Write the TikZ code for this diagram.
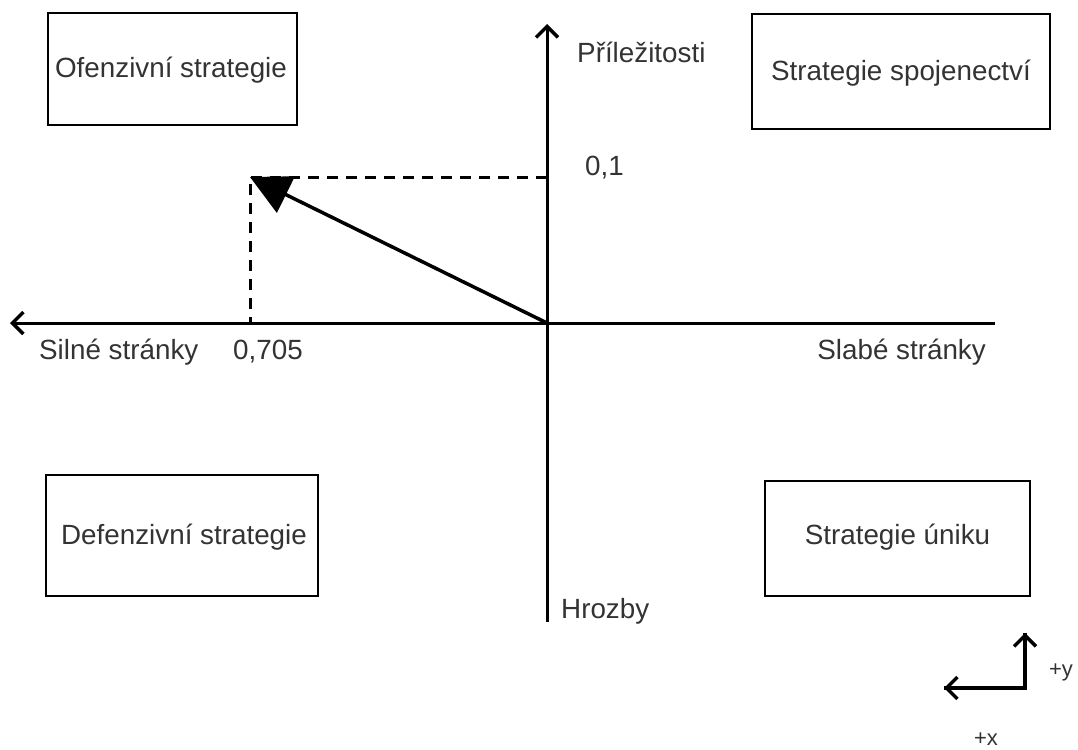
\documentclass[tikz,border=0pt]{standalone}
\usepackage{fontspec}
\setmainfont{Liberation Sans}
\usetikzlibrary{arrows.meta}
\begin{document}
\begin{tikzpicture}[x=1pt,y=-1pt,
  box/.style={draw, line width=2pt},
  lbl/.style={inner sep=0pt, font=\fontsize{27.8}{32}\selectfont, text=black!80},
  axis/.style={line width=3pt, -{Straight Barb[length=11pt,width=22pt,line width=3.5pt]}},
  dashline/.style={line width=3pt, dash pattern=on 11pt off 8pt},
  vec/.style={line width=3.5pt, -{Triangle[length=40pt,width=40pt]}}]
\useasboundingbox (0,0) rectangle (1078,749);
% boxes
\draw[box] (48,13) rectangle (297,125);
\node[lbl] (ofe) at (171,70) {Ofenzivní strategie};
\draw[box] (752,14) rectangle (1050,129);
\node[lbl] (spo) at (901,73) {Strategie spojenectví};
\draw[box] (46,475) rectangle (318,596);
\node[lbl] (def) at (184,537) {Defenzivní strategie};
\draw[box] (765,481) rectangle (1030,596);
\node[lbl] (uni) at (897.5,537) {Strategie úniku};
% axes
\coordinate (O) at (547,323);
\coordinate (L) at (10,323);
\coordinate (R) at (995,323);
\coordinate (T) at (547,24);
\coordinate (B) at (547,622);
\draw[line width=3pt] (O) -- (R);
\draw[line width=3pt] (O) -- (B);
\draw[axis] (O) -- (L);
\draw[axis] (O) -- (T);
% dashed
\coordinate (P) at (250,177);
\coordinate (PY) at (547,177);
\coordinate (PX) at (250,323);
\draw[dashline] (PY) -- (P) -- (PX);
\draw[vec] (O) -- (P);
% labels
\node[lbl, anchor=west] (pri) at (577,52) {Příležitosti};
\node[lbl, anchor=west] (v01) at (585,168) {0,1};
\node[lbl, anchor=west] (sil) at (39,352) {Silné stránky};
\node[lbl, anchor=west] (v705) at (233,352) {0,705};
\node[lbl, anchor=east] (sla) at (986,352) {Slabé stránky};
\node[lbl, anchor=west] (hro) at (561,611) {Hrozby};
% small axes
\coordinate (c) at (1025,688);
\coordinate (cy) at (1025,633);
\coordinate (cx) at (944,688);
\draw[line width=3.5pt, line join=miter] (cy) -- (c) -- (cx);
\draw[axis, line width=3.5pt] (c) -- (cy);
\draw[axis, line width=3.5pt] (c) -- (cx);
\node[lbl, font=\fontsize{22}{26}\selectfont] (py) at (1061,672) {+y};
\node[lbl, font=\fontsize{22}{26}\selectfont] (px) at (986,739) {+x};
\end{tikzpicture}
\end{document}
